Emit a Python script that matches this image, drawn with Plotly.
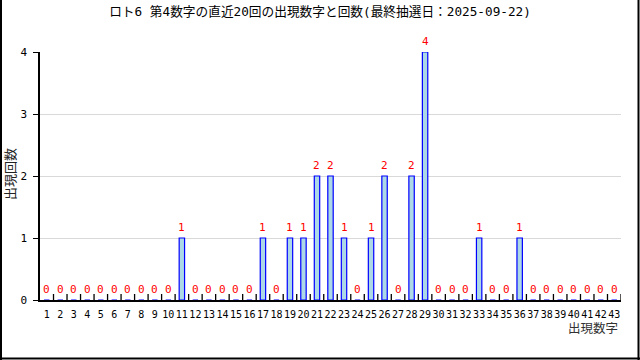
import plotly.graph_objects as go

numbers = list(range(1, 44))
counts = [0]*43
hits = {11: 1, 17: 1, 19: 1, 20: 1, 21: 2, 22: 2, 23: 1, 25: 1, 26: 2, 28: 2, 29: 4, 33: 1, 36: 1}
for k, v in hits.items():
    counts[k - 1] = v
tick_labels = [str(n) for n in numbers]
title_text = "ロト6 第4数字の直近20回の出現数字と回数(最終抽選日：2025-09-22)"
y_title = "出現回数"
x_title = "出現数字"

W, H = 640, 360
L, R, T, B = 40, 19, 52, 60
pw, ph = W - L - R, H - T - B

def px(x):
    return (x - L) / pw

def py(y):
    return (H - B - y) / ph

FONT = "DejaVu Sans Mono, Noto Sans CJK JP"

fig = go.Figure()
fig.add_trace(go.Bar(
    x=numbers, y=counts, width=0.4,
    marker=dict(color="#add8e6", line=dict(color="#0000ff", width=1.2)),
    cliponaxis=False,
))

shapes = [
    dict(type="line", xref="paper", yref="paper", x0=px(1), x1=px(1), y0=py(0), y1=py(H), line=dict(color="black", width=2)),
    dict(type="line", xref="paper", yref="paper", x0=px(638.5), x1=px(638.5), y0=py(0), y1=py(H), line=dict(color="black", width=2)),
    dict(type="line", xref="paper", yref="paper", x0=px(0), x1=px(W), y0=py(358.5), y1=py(358.5), line=dict(color="black", width=2)),
]
boundaries = [n + 0.5 for n in numbers]
for b in boundaries:
    shapes.append(dict(type="line", xref="x", yref="paper", x0=b, x1=b, y0=0, y1=6 / ph,
                       layer="above", line=dict(color="black", width=1.3)))

annotations = [
    dict(text=str(c), x=n, y=c, xref="x", yref="y", showarrow=False, yanchor="bottom",
         yshift=2, font=dict(color="#ff0000", size=11, family=FONT))
    for n, c in zip(numbers, counts)
]
annotations += [
    dict(text=y_title, xref="paper", yref="paper", x=px(10), y=py(174), showarrow=False,
         textangle=-90, font=dict(size=13, family=FONT, color="#222"), xanchor="center", yanchor="middle"),
    dict(text=x_title, xref="paper", yref="paper", x=px(620), y=py(328), showarrow=False,
         font=dict(size=12.5, family=FONT, color="#333"), xanchor="right", yanchor="middle"),
]

fig.update_layout(
    width=W, height=H,
    margin=dict(l=L, r=R, t=T, b=B),
    paper_bgcolor="white", plot_bgcolor="white",
    showlegend=False,
    font=dict(family=FONT, color="black", size=11),
    title=dict(text=title_text, x=0.5, xref="container", xanchor="center", y=1 - 12 / H, yanchor="middle",
               font=dict(size=12.7, family=FONT, color="black")),
    xaxis=dict(range=[0.5, 43.5], tickmode="array", tickvals=numbers, ticktext=tick_labels,
               tickangle=0,
               showline=True, linecolor="black", linewidth=1.5, ticks="", showgrid=False,
               zeroline=False, tickfont=dict(size=10, family=FONT), ticklabelstandoff=4),
    yaxis=dict(range=[0, 4], tickmode="array", tickvals=[0, 1, 2, 3, 4],
               showline=True, linecolor="black", linewidth=1.5, ticks="outside", ticklen=5,
               tickcolor="black", showgrid=True, gridcolor="#d9d9d9", gridwidth=1,
               zeroline=False, tickfont=dict(size=11, family=FONT), ticklabelstandoff=4),
    shapes=shapes,
    annotations=annotations,
)
fig.write_html("out.html")
